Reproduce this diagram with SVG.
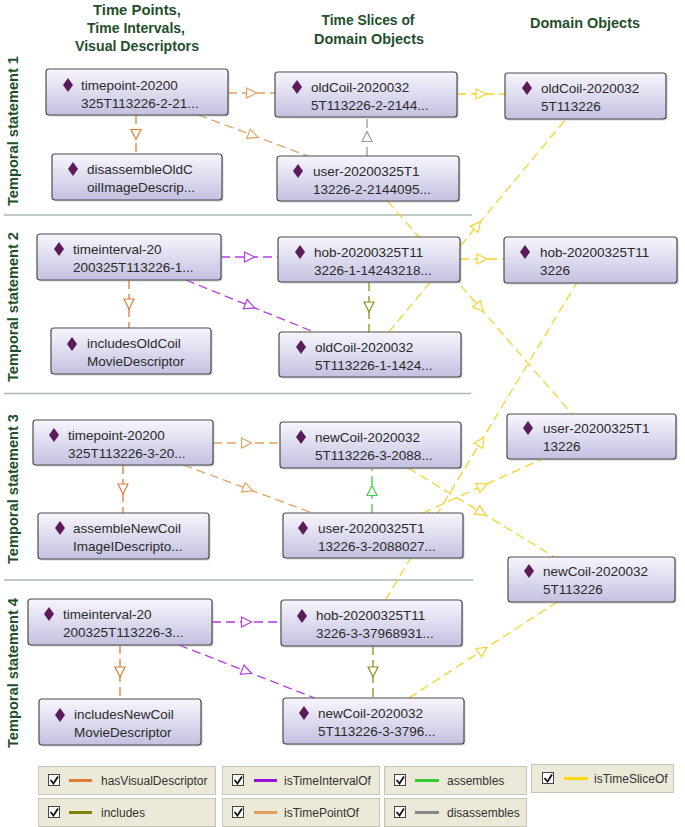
<svg xmlns="http://www.w3.org/2000/svg" width="685" height="827" viewBox="0 0 685 827">
<style>
.hdr{font-family:"Liberation Sans",Arial,sans-serif;font-weight:bold;font-size:15px;fill:#1f4f2c;text-anchor:middle}
.nb{fill:url(#ng);stroke:#4d4d4d;stroke-width:1.2}
.sh{fill:#9a9a9a;opacity:0.45}
.dm{fill:#5b1a58}
.nt{font-family:"Liberation Sans",Arial,sans-serif;font-size:13.5px;fill:#2a2a2a}
.sep{stroke:#a9bdb0;stroke-width:1.5}
.c{fill:none;stroke-width:1.3;stroke-dasharray:9,5}
.hvd{stroke:#e27a34;marker-mid:url(#m-hvd)}
.tpo{stroke:#e2a466;marker-mid:url(#m-tpo)}
.tio{stroke:#b23ce6;marker-mid:url(#m-tio)}
.asm{stroke:#3fcf3f;marker-mid:url(#m-asm)}
.tso{stroke:#f8d22c;marker-mid:url(#m-tso)}
.inc{stroke:#8e8e12;marker-mid:url(#m-inc)}
.dis{stroke:#9a9a9a;marker-mid:url(#m-dis)}
.lb{fill:#ece9d8;stroke:#c9c5b4;stroke-width:1}
.cb{fill:#fff;stroke:#444;stroke-width:1}
.ck{fill:none;stroke:#111;stroke-width:1.8}
.lt{font-family:"Liberation Sans",Arial,sans-serif;font-size:12px;fill:#333}
</style>
<defs>
<linearGradient id="ng" x1="0" y1="0" x2="0" y2="1">
<stop offset="0" stop-color="#f7f6fd"/>
<stop offset="1" stop-color="#c3c1e0"/>
</linearGradient>
<marker id="m-hvd" markerUnits="userSpaceOnUse" viewBox="-7 -7 14 14" markerWidth="14" markerHeight="14" refX="0" refY="0" orient="auto"><path d="M-5,-5 L5,0 L-5,5 Z" fill="#fff" stroke="#e27a34" stroke-width="1.2"/></marker>
<marker id="m-tpo" markerUnits="userSpaceOnUse" viewBox="-7 -7 14 14" markerWidth="14" markerHeight="14" refX="0" refY="0" orient="auto"><path d="M-5,-5 L5,0 L-5,5 Z" fill="#fff" stroke="#e2a466" stroke-width="1.2"/></marker>
<marker id="m-tio" markerUnits="userSpaceOnUse" viewBox="-7 -7 14 14" markerWidth="14" markerHeight="14" refX="0" refY="0" orient="auto"><path d="M-5,-5 L5,0 L-5,5 Z" fill="#fff" stroke="#b23ce6" stroke-width="1.2"/></marker>
<marker id="m-asm" markerUnits="userSpaceOnUse" viewBox="-7 -7 14 14" markerWidth="14" markerHeight="14" refX="0" refY="0" orient="auto"><path d="M-5,-5 L5,0 L-5,5 Z" fill="#fff" stroke="#3fcf3f" stroke-width="1.2"/></marker>
<marker id="m-tso" markerUnits="userSpaceOnUse" viewBox="-7 -7 14 14" markerWidth="14" markerHeight="14" refX="0" refY="0" orient="auto"><path d="M-5,-5 L5,0 L-5,5 Z" fill="#fff" stroke="#f8d22c" stroke-width="1.2"/></marker>
<marker id="m-inc" markerUnits="userSpaceOnUse" viewBox="-7 -7 14 14" markerWidth="14" markerHeight="14" refX="0" refY="0" orient="auto"><path d="M-5,-5 L5,0 L-5,5 Z" fill="#fff" stroke="#8e8e12" stroke-width="1.2"/></marker>
<marker id="m-dis" markerUnits="userSpaceOnUse" viewBox="-7 -7 14 14" markerWidth="14" markerHeight="14" refX="0" refY="0" orient="auto"><path d="M-5,-5 L5,0 L-5,5 Z" fill="#fff" stroke="#9a9a9a" stroke-width="1.2"/></marker>
</defs>
<rect width="685" height="827" fill="#fff"/>

<g id="headers">
<text class="hdr" x="137" y="15" textLength="88" lengthAdjust="spacingAndGlyphs">Time Points,</text>
<text class="hdr" x="136" y="33" textLength="98" lengthAdjust="spacingAndGlyphs">Time Intervals,</text>
<text class="hdr" x="137" y="51" textLength="124" lengthAdjust="spacingAndGlyphs">Visual Descriptors</text>
<text class="hdr" x="368" y="25" textLength="93" lengthAdjust="spacingAndGlyphs">Time Slices of</text>
<text class="hdr" x="369" y="44" textLength="110" lengthAdjust="spacingAndGlyphs">Domain Objects</text>
<text class="hdr" x="585" y="28" textLength="110" lengthAdjust="spacingAndGlyphs">Domain Objects</text>
<text class="hdr" transform="translate(18,131) rotate(-90)" textLength="150" lengthAdjust="spacingAndGlyphs">Temporal statement 1</text>
<text class="hdr" transform="translate(18,307) rotate(-90)" textLength="150" lengthAdjust="spacingAndGlyphs">Temporal statement 2</text>
<text class="hdr" transform="translate(18,489) rotate(-90)" textLength="150" lengthAdjust="spacingAndGlyphs">Temporal statement 3</text>
<text class="hdr" transform="translate(18,673) rotate(-90)" textLength="150" lengthAdjust="spacingAndGlyphs">Temporal statement 4</text>
</g>

<g id="separators">
<line class="sep" x1="4" y1="215" x2="472" y2="215"/>
<line class="sep" x1="4" y1="393.5" x2="471" y2="393.5"/>
<line class="sep" x1="4" y1="580" x2="473" y2="580"/>
</g>

<g id="connectors">
<polyline class="c tpo" points="228,93 251.5,93 275,93"/>
<polyline class="c tpo" points="198.4,115 253.2,135.5 307.9,156"/>
<polyline class="c hvd" points="136,115 136,134.5 136,154"/>
<polyline class="c dis" points="367,156 367,136.5 367,117"/>
<polyline class="c tso" points="457,94 481,94 505,94"/>
<polyline class="c tio" points="221,257 249.5,257 278,257"/>
<polyline class="c tio" points="185.8,280 249.9,306 314,332"/>
<polyline class="c hvd" points="129,280 129,304 129,328"/>
<polyline class="c inc" points="369,282 369,307 369,332"/>
<polyline class="c tso" points="460,259 482,259 504,259"/>
<polyline class="c tso" points="388.8,332 477.4,225.5 566,119"/>
<polyline class="c tso" points="387.5,201 479.8,307.5 572,414"/>
<polyline class="c tpo" points="213,443 246.5,443 280,443"/>
<polyline class="c tpo" points="183.5,465 248,489 312.5,513"/>
<polyline class="c hvd" points="123,465 123,489 123,513"/>
<polyline class="c asm" points="372,513 372,490.5 372,468"/>
<polyline class="c tso" points="422.7,513 482.4,486 542,459"/>
<polyline class="c tso" points="408.3,468 481.4,512.5 554.5,557"/>
<polyline class="c tso" points="385.4,600 481,441.5 576.6,283"/>
<polyline class="c tio" points="212,622 246.5,622 281,622"/>
<polyline class="c tio" points="179,645 246.8,671.5 314.6,698"/>
<polyline class="c hvd" points="120,645 120,672 120,699"/>
<polyline class="c inc" points="373,646 373,672 373,698"/>
<polyline class="c tso" points="409,698 483,650 557,602"/>
</g>

<g id="timepoint-ts1"><rect class="sh" x="47.5" y="70.5" width="182" height="46" rx="3"/><rect class="nb" x="46" y="69" width="182" height="46" rx="3"/><path class="dm" d="M68,78 L73,85 L68,92 L63,85 Z"/><text class="nt" x="81"><tspan x="81" y="89.5">timepoint-20200</tspan><tspan x="81" y="107.5">325T113226-2-21...</tspan></text></g>
<g id="disassembleOldCoilImageDescriptor"><rect class="sh" x="53.5" y="155.5" width="170" height="46" rx="3"/><rect class="nb" x="52" y="154" width="170" height="46" rx="3"/><path class="dm" d="M73,162 L78,169 L73,176 L68,169 Z"/><text class="nt" x="87"><tspan x="87" y="173.5">disassembleOldC</tspan><tspan x="87" y="191.5">oilImageDescrip...</tspan></text></g>
<g id="oldCoil-ts1"><rect class="sh" x="276.5" y="73.5" width="182" height="45" rx="3"/><rect class="nb" x="275" y="72" width="182" height="45" rx="3"/><path class="dm" d="M297,80 L302,87 L297,94 L292,87 Z"/><text class="nt" x="311"><tspan x="311" y="91.5">oldCoil-2020032</tspan><tspan x="311" y="109.5">5T113226-2-2144...</tspan></text></g>
<g id="user-ts1"><rect class="sh" x="278.5" y="157.5" width="182" height="45" rx="3"/><rect class="nb" x="277" y="156" width="182" height="45" rx="3"/><path class="dm" d="M298,164 L303,171 L298,178 L293,171 Z"/><text class="nt" x="313"><tspan x="313" y="175.5">user-20200325T1</tspan><tspan x="313" y="193.5">13226-2-2144095...</tspan></text></g>
<g id="domain-oldCoil"><rect class="sh" x="506.5" y="74.5" width="161" height="46" rx="3"/><rect class="nb" x="505" y="73" width="161" height="46" rx="3"/><path class="dm" d="M527,81 L532,88 L527,95 L522,88 Z"/><text class="nt" x="541"><tspan x="541" y="92.5">oldCoil-2020032</tspan><tspan x="541" y="110.5">5T113226</tspan></text></g>

<g id="timeinterval-ts2"><rect class="sh" x="38.5" y="235.5" width="184" height="46" rx="3"/><rect class="nb" x="37" y="234" width="184" height="46" rx="3"/><path class="dm" d="M59,242 L64,249 L59,256 L54,249 Z"/><text class="nt" x="73"><tspan x="73" y="253.5">timeinterval-20</tspan><tspan x="73" y="271.5">200325T113226-1...</tspan></text></g>
<g id="includesOldCoilMovieDescriptor"><rect class="sh" x="52.5" y="329.5" width="160" height="46" rx="3"/><rect class="nb" x="51" y="328" width="160" height="46" rx="3"/><path class="dm" d="M72,337 L77,344 L72,351 L67,344 Z"/><text class="nt" x="87"><tspan x="87" y="348">includesOldCoil</tspan><tspan x="87" y="366">MovieDescriptor</tspan></text></g>
<g id="hob-ts2"><rect class="sh" x="279.5" y="238.5" width="182" height="45" rx="3"/><rect class="nb" x="278" y="237" width="182" height="45" rx="3"/><path class="dm" d="M300,245 L305,252 L300,259 L295,252 Z"/><text class="nt" x="314"><tspan x="314" y="256.5">hob-20200325T11</tspan><tspan x="314" y="274.5">3226-1-14243218...</tspan></text></g>
<g id="oldCoil-ts2"><rect class="sh" x="280.5" y="333.5" width="182" height="45" rx="3"/><rect class="nb" x="279" y="332" width="182" height="45" rx="3"/><path class="dm" d="M301,340 L306,347 L301,354 L296,347 Z"/><text class="nt" x="315"><tspan x="315" y="351.5">oldCoil-2020032</tspan><tspan x="315" y="369.5">5T113226-1-1424...</tspan></text></g>
<g id="domain-hob"><rect class="sh" x="505.5" y="238.5" width="173" height="46" rx="3"/><rect class="nb" x="504" y="237" width="173" height="46" rx="3"/><path class="dm" d="M525,245 L530,252 L525,259 L520,252 Z"/><text class="nt" x="540"><tspan x="540" y="256.5">hob-20200325T11</tspan><tspan x="540" y="274.5">3226</tspan></text></g>

<g id="timepoint-ts3"><rect class="sh" x="34.5" y="421.5" width="180" height="45" rx="3"/><rect class="nb" x="33" y="420" width="180" height="45" rx="3"/><path class="dm" d="M54,428 L59,435 L54,442 L49,435 Z"/><text class="nt" x="68"><tspan x="68" y="439.5">timepoint-20200</tspan><tspan x="68" y="457.5">325T113226-3-20...</tspan></text></g>
<g id="assembleNewCoilImageDescriptor"><rect class="sh" x="39.5" y="514.5" width="171" height="46" rx="3"/><rect class="nb" x="38" y="513" width="171" height="46" rx="3"/><path class="dm" d="M60,521 L65,528 L60,535 L55,528 Z"/><text class="nt" x="73"><tspan x="73" y="532.5">assembleNewCoil</tspan><tspan x="73" y="550.5">ImageIDescripto...</tspan></text></g>
<g id="newCoil-ts3"><rect class="sh" x="281.5" y="423.5" width="181" height="46" rx="3"/><rect class="nb" x="280" y="422" width="181" height="46" rx="3"/><path class="dm" d="M301,430 L306,437 L301,444 L296,437 Z"/><text class="nt" x="315"><tspan x="315" y="441.5">newCoil-2020032</tspan><tspan x="315" y="459.5">5T113226-3-2088...</tspan></text></g>
<g id="user-ts3"><rect class="sh" x="284.5" y="514.5" width="180" height="45" rx="3"/><rect class="nb" x="283" y="513" width="180" height="45" rx="3"/><path class="dm" d="M303,521 L308,528 L303,535 L298,528 Z"/><text class="nt" x="318"><tspan x="318" y="532.5">user-20200325T1</tspan><tspan x="318" y="550.5">13226-3-2088027...</tspan></text></g>
<g id="domain-user"><rect class="sh" x="508.5" y="415.5" width="169" height="45" rx="3"/><rect class="nb" x="507" y="414" width="169" height="45" rx="3"/><path class="dm" d="M528,421 L533,428 L528,435 L523,428 Z"/><text class="nt" x="543"><tspan x="543" y="432.5">user-20200325T1</tspan><tspan x="543" y="450.5">13226</tspan></text></g>
<g id="domain-newCoil"><rect class="sh" x="509.5" y="558.5" width="167" height="45" rx="3"/><rect class="nb" x="508" y="557" width="167" height="45" rx="3"/><path class="dm" d="M529,564 L534,571 L529,578 L524,571 Z"/><text class="nt" x="543"><tspan x="543" y="575.5">newCoil-2020032</tspan><tspan x="543" y="593.5">5T113226</tspan></text></g>

<g id="timeinterval-ts4"><rect class="sh" x="29.5" y="600.5" width="184" height="46" rx="3"/><rect class="nb" x="28" y="599" width="184" height="46" rx="3"/><path class="dm" d="M49,607 L54,614 L49,621 L44,614 Z"/><text class="nt" x="63"><tspan x="63" y="618.5">timeinterval-20</tspan><tspan x="63" y="636.5">200325T113226-3...</tspan></text></g>
<g id="includesNewCoilMovieDescriptor"><rect class="sh" x="40.5" y="700.5" width="162" height="46" rx="3"/><rect class="nb" x="39" y="699" width="162" height="46" rx="3"/><path class="dm" d="M60,708 L65,715 L60,722 L55,715 Z"/><text class="nt" x="74"><tspan x="74" y="719">includesNewCoil</tspan><tspan x="74" y="737">MovieDescriptor</tspan></text></g>
<g id="hob-ts4"><rect class="sh" x="282.5" y="601.5" width="181" height="46" rx="3"/><rect class="nb" x="281" y="600" width="181" height="46" rx="3"/><path class="dm" d="M302,609 L307,616 L302,623 L297,616 Z"/><text class="nt" x="316"><tspan x="316" y="619.5">hob-20200325T11</tspan><tspan x="316" y="637.5">3226-3-37968931...</tspan></text></g>
<g id="newCoil-ts4"><rect class="sh" x="284.5" y="699.5" width="181" height="46" rx="3"/><rect class="nb" x="283" y="698" width="181" height="46" rx="3"/><path class="dm" d="M304,706 L309,713 L304,720 L299,713 Z"/><text class="nt" x="318"><tspan x="318" y="717.5">newCoil-2020032</tspan><tspan x="318" y="735.5">5T113226-3-3796...</tspan></text></g>

<g id="legend">
<g><rect class="lb" x="38.5" y="766.5" width="177" height="28"/><rect class="cb" x="48.5" y="774.5" width="11" height="11"/><path class="ck" d="M50.5,780 L53.5,783.5 L58,776.5"/><line x1="69" y1="780.5" x2="92" y2="780.5" stroke="#e27a34" stroke-width="3"/><text class="lt" x="101" y="785">hasVisualDescriptor</text></g>
<g><rect class="lb" x="222.5" y="766.5" width="157" height="28"/><rect class="cb" x="232.5" y="774.5" width="11" height="11"/><path class="ck" d="M234.5,780 L237.5,783.5 L242,776.5"/><line x1="254" y1="780.5" x2="277" y2="780.5" stroke="#9a10d8" stroke-width="3"/><text class="lt" x="284" y="785">isTimeIntervalOf</text></g>
<g><rect class="lb" x="384.5" y="766.5" width="142" height="28"/><rect class="cb" x="394.5" y="774.5" width="11" height="11"/><path class="ck" d="M396.5,780 L399.5,783.5 L404,776.5"/><line x1="415" y1="780.5" x2="439" y2="780.5" stroke="#33cc33" stroke-width="3"/><text class="lt" x="447" y="785">assembles</text></g>
<g><rect class="lb" x="531.5" y="764.5" width="142" height="28"/><rect class="cb" x="542.5" y="772.5" width="11" height="11"/><path class="ck" d="M544.5,778 L547.5,781.5 L552,774.5"/><line x1="564" y1="778.5" x2="588" y2="778.5" stroke="#ffd700" stroke-width="3"/><text class="lt" x="594" y="783">isTimeSliceOf</text></g>
<g><rect class="lb" x="38.5" y="798.5" width="177" height="28"/><rect class="cb" x="48.5" y="806.5" width="11" height="11"/><path class="ck" d="M50.5,812 L53.5,815.5 L58,808.5"/><line x1="69" y1="812.5" x2="92" y2="812.5" stroke="#808000" stroke-width="3"/><text class="lt" x="101" y="817">includes</text></g>
<g><rect class="lb" x="222.5" y="798.5" width="157" height="28"/><rect class="cb" x="232.5" y="806.5" width="11" height="11"/><path class="ck" d="M234.5,812 L237.5,815.5 L242,808.5"/><line x1="254" y1="812.5" x2="277" y2="812.5" stroke="#e0a060" stroke-width="3"/><text class="lt" x="284" y="817">isTimePointOf</text></g>
<g><rect class="lb" x="384.5" y="798.5" width="142" height="28"/><rect class="cb" x="394.5" y="806.5" width="11" height="11"/><path class="ck" d="M396.5,812 L399.5,815.5 L404,808.5"/><line x1="415" y1="812.5" x2="439" y2="812.5" stroke="#888888" stroke-width="3"/><text class="lt" x="447" y="817">disassembles</text></g>
</g>
</svg>
